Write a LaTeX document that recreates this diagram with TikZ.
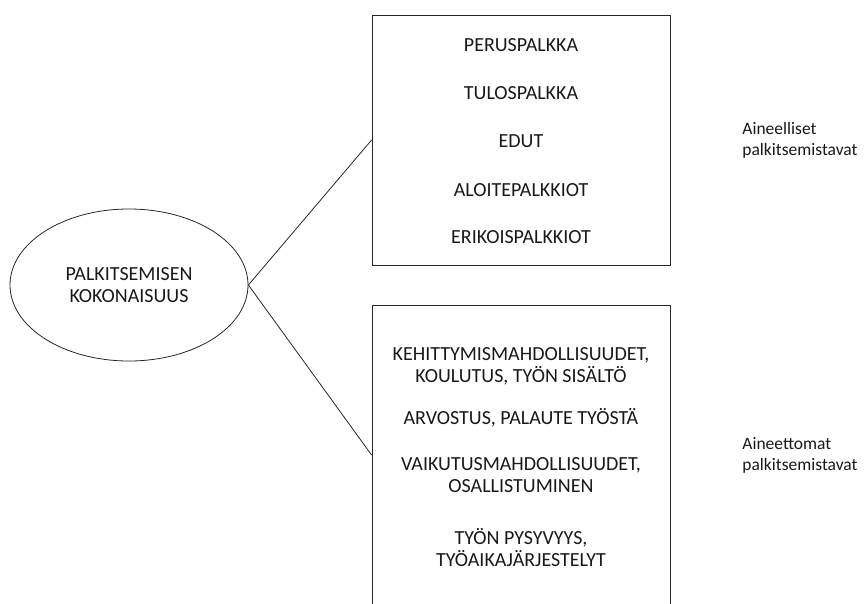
\documentclass[tikz,border=0pt]{standalone}
\usepackage{fontspec}
\setmainfont{Carlito}
\usetikzlibrary{shapes.geometric}

\begin{document}
\begin{tikzpicture}[x=1pt, y=-1pt, line width=0.8pt, draw=black!85,
        main/.style = {draw, ellipse, minimum width=238pt, minimum height=152pt, align=center, font=\fontsize{20}{22}\selectfont},
        box/.style = {draw, rectangle, minimum width=298pt},
        item/.style = {align=center, text=black!90, font=\fontsize{20}{22}\selectfont},
        side/.style = {anchor=west, align=left, inner sep=0pt, text=black!90, font=\fontsize{17.5}{21}\selectfont}]
        \useasboundingbox (0,0) rectangle (865,603);
        \clip (0,0) rectangle (865,603);

        % Nodes
        \node[main, text=black!90] (whole) at (129,285) {PALKITSEMISEN\\KOKONAISUUS};
        \node[box, minimum height=250pt] (material)   at (521,140) {};
        \node[box, minimum height=300pt] (immaterial) at (521,455) {};

        % Material rewards
        \node[item] (base)    at (521,45)  {PERUSPALKKA};
        \node[item] (result)  at (521,93)  {TULOSPALKKA};
        \node[item] (perks)   at (521,141) {EDUT};
        \node[item] (ideas)   at (521,190) {ALOITEPALKKIOT};
        \node[item] (special) at (521,237) {ERIKOISPALKKIOT};

        % Immaterial rewards
        \node[item] (growth)    at (521,366) {KEHITTYMISMAHDOLLISUUDET,\\KOULUTUS, TYÖN SISÄLTÖ};
        \node[item] (feedback)  at (521,418) {ARVOSTUS, PALAUTE TYÖSTÄ};
        \node[item] (influence) at (521,475) {VAIKUTUSMAHDOLLISUUDET,\\OSALLISTUMINEN};
        \node[item] (security)  at (521,548) {TYÖN PYSYVYYS,\\TYÖAIKAJÄRJESTELYT};

        % Side labels
        \node[side] (matlabel)   at (742,140) {Aineelliset\\palkitsemistavat};
        \node[side] (immatlabel) at (742,455) {Aineettomat\\palkitsemistavat};

        % Connections
        \draw (whole.east) -- (material.west);
        \draw (whole.east) -- (immaterial.west);
      \end{tikzpicture}
\end{document}
